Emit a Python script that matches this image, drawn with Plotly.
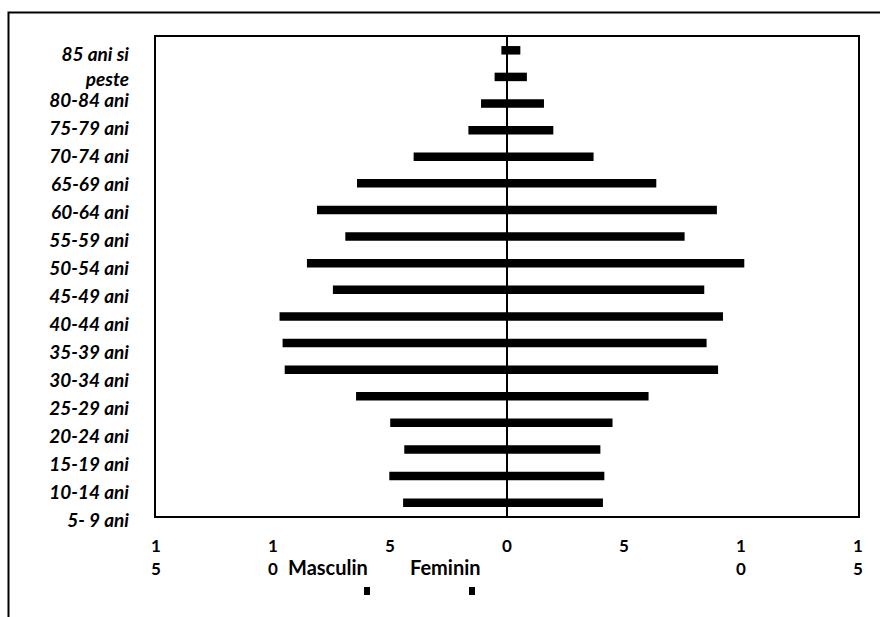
import plotly.graph_objects as go

# ---- data (top of pyramid first) ----
bar_index = list(range(18))
masculin = [0.24, 0.53, 1.11, 1.65, 3.99, 6.41, 8.12, 6.91, 8.55, 7.44,
            9.72, 9.59, 9.50, 6.45, 4.99, 4.39, 5.03, 4.44]
feminin = [0.57, 0.85, 1.58, 1.98, 3.70, 6.38, 8.97, 7.59, 10.14, 8.43,
           9.23, 8.53, 9.02, 6.05, 4.51, 3.99, 4.16, 4.10]
age_labels = ["85 ani si<br>peste", "80-84 ani", "75-79 ani", "70-74 ani",
              "65-69 ani", "60-64 ani", "55-59 ani", "50-54 ani", "45-49 ani",
              "40-44 ani", "35-39 ani", "30-34 ani", "25-29 ani", "20-24 ani",
              "15-19 ani", "10-14 ani", "5- 9 ani"]
x_tickvals = [-15, -10, -5, 0, 5, 10, 15]
x_ticktext = ["1<br>5", "1<br>0", "5", "0", "5", "1<br>0", "1<br>5"]

W, H = 880, 617
L, R, T, B = 156, 858, 37, 530
PLOT_BOTTOM = 516

def pxx(px):
    return (px - L) / (R - L)

def pxy(py):
    return (B - py) / (B - T)

FONT = "Lato"

# label slots on the (misaligned) label axis; the two-line first label sits a bit higher
label_pos = [float(i) for i in range(len(age_labels))]
label_pos[0] -= 0.18

fig = go.Figure()
fig.add_trace(go.Bar(y=bar_index, x=[-v for v in masculin], orientation="h",
                     width=0.32, marker=dict(color="black", line=dict(width=0)),
                     name="Masculin", showlegend=False,
                     customdata=masculin, hovertemplate="%{customdata}<extra>Masculin</extra>"))
fig.add_trace(go.Bar(y=bar_index, x=feminin, orientation="h",
                     width=0.32, marker=dict(color="black", line=dict(width=0)),
                     name="Feminin", showlegend=False))
# invisible helper trace carrying the label axis
fig.add_trace(go.Scatter(y=label_pos, x=[0] * len(label_pos), xaxis="x2", yaxis="y2",
                         mode="markers", marker=dict(opacity=0),
                         hoverinfo="skip", showlegend=False))

first_px, step_px = 72, 28.0
top_idx = (T - first_px) / step_px
bot_idx = (B - first_px) / step_px

fig.update_layout(
    width=W, height=H,
    margin=dict(l=L, r=W - R, t=T, b=H - B, pad=0),
    paper_bgcolor="white", plot_bgcolor="rgba(0,0,0,0)",
    barmode="overlay",
    font=dict(family=FONT, color="black"),
    xaxis=dict(range=[-15, 15], tickvals=x_tickvals, ticktext=x_ticktext,
               showgrid=False, zeroline=True, zerolinecolor="black", zerolinewidth=2,
               showline=True, linecolor="black", linewidth=2, mirror=True,
               ticks="", ticklabelstandoff=14,
               tickfont=dict(family=FONT, size=17, color="black", weight="bold"),
               anchor="y"),
    yaxis=dict(range=[17.5, -0.5], showticklabels=False, showgrid=False,
               zeroline=False, showline=True, linecolor="black", linewidth=2,
               mirror=True, ticks="", domain=[pxy(PLOT_BOTTOM), 1]),
    xaxis2=dict(domain=[0, 1], range=[-1, 1], visible=False, anchor="y2"),
    yaxis2=dict(range=[bot_idx, top_idx], domain=[0, 1], anchor="x2", side="left",
                tickmode="array", tickvals=label_pos, ticktext=age_labels,
                showline=False, showgrid=False, zeroline=False, ticks="",
                ticklabelstandoff=26,
                tickfont=dict(family=FONT, size=19, color="black",
                              weight="bold", style="italic")),
)

# legend-like labels and swatches (as drawn in the reference)
for txt, cx, sx in [("Masculin", 328, 367), ("Feminin", 445, 472)]:
    fig.add_annotation(text=txt, xref="paper", yref="paper", x=pxx(cx), y=pxy(567),
                       showarrow=False, xanchor="center", yanchor="middle",
                       font=dict(family=FONT, size=20, color="black", weight="bold"))
    fig.add_shape(type="rect", xref="paper", yref="paper",
                  x0=pxx(sx - 3), x1=pxx(sx + 3), y0=pxy(587), y1=pxy(595),
                  fillcolor="black", line=dict(width=0))

# outer frame (top and left edges visible)
fig.add_shape(type="rect", xref="paper", yref="paper",
              x0=pxx(8.5), x1=pxx(900), y0=pxy(640), y1=pxy(12.5),
              line=dict(color="black", width=2), fillcolor="rgba(0,0,0,0)", layer="below")

fig.write_html("out.html")
